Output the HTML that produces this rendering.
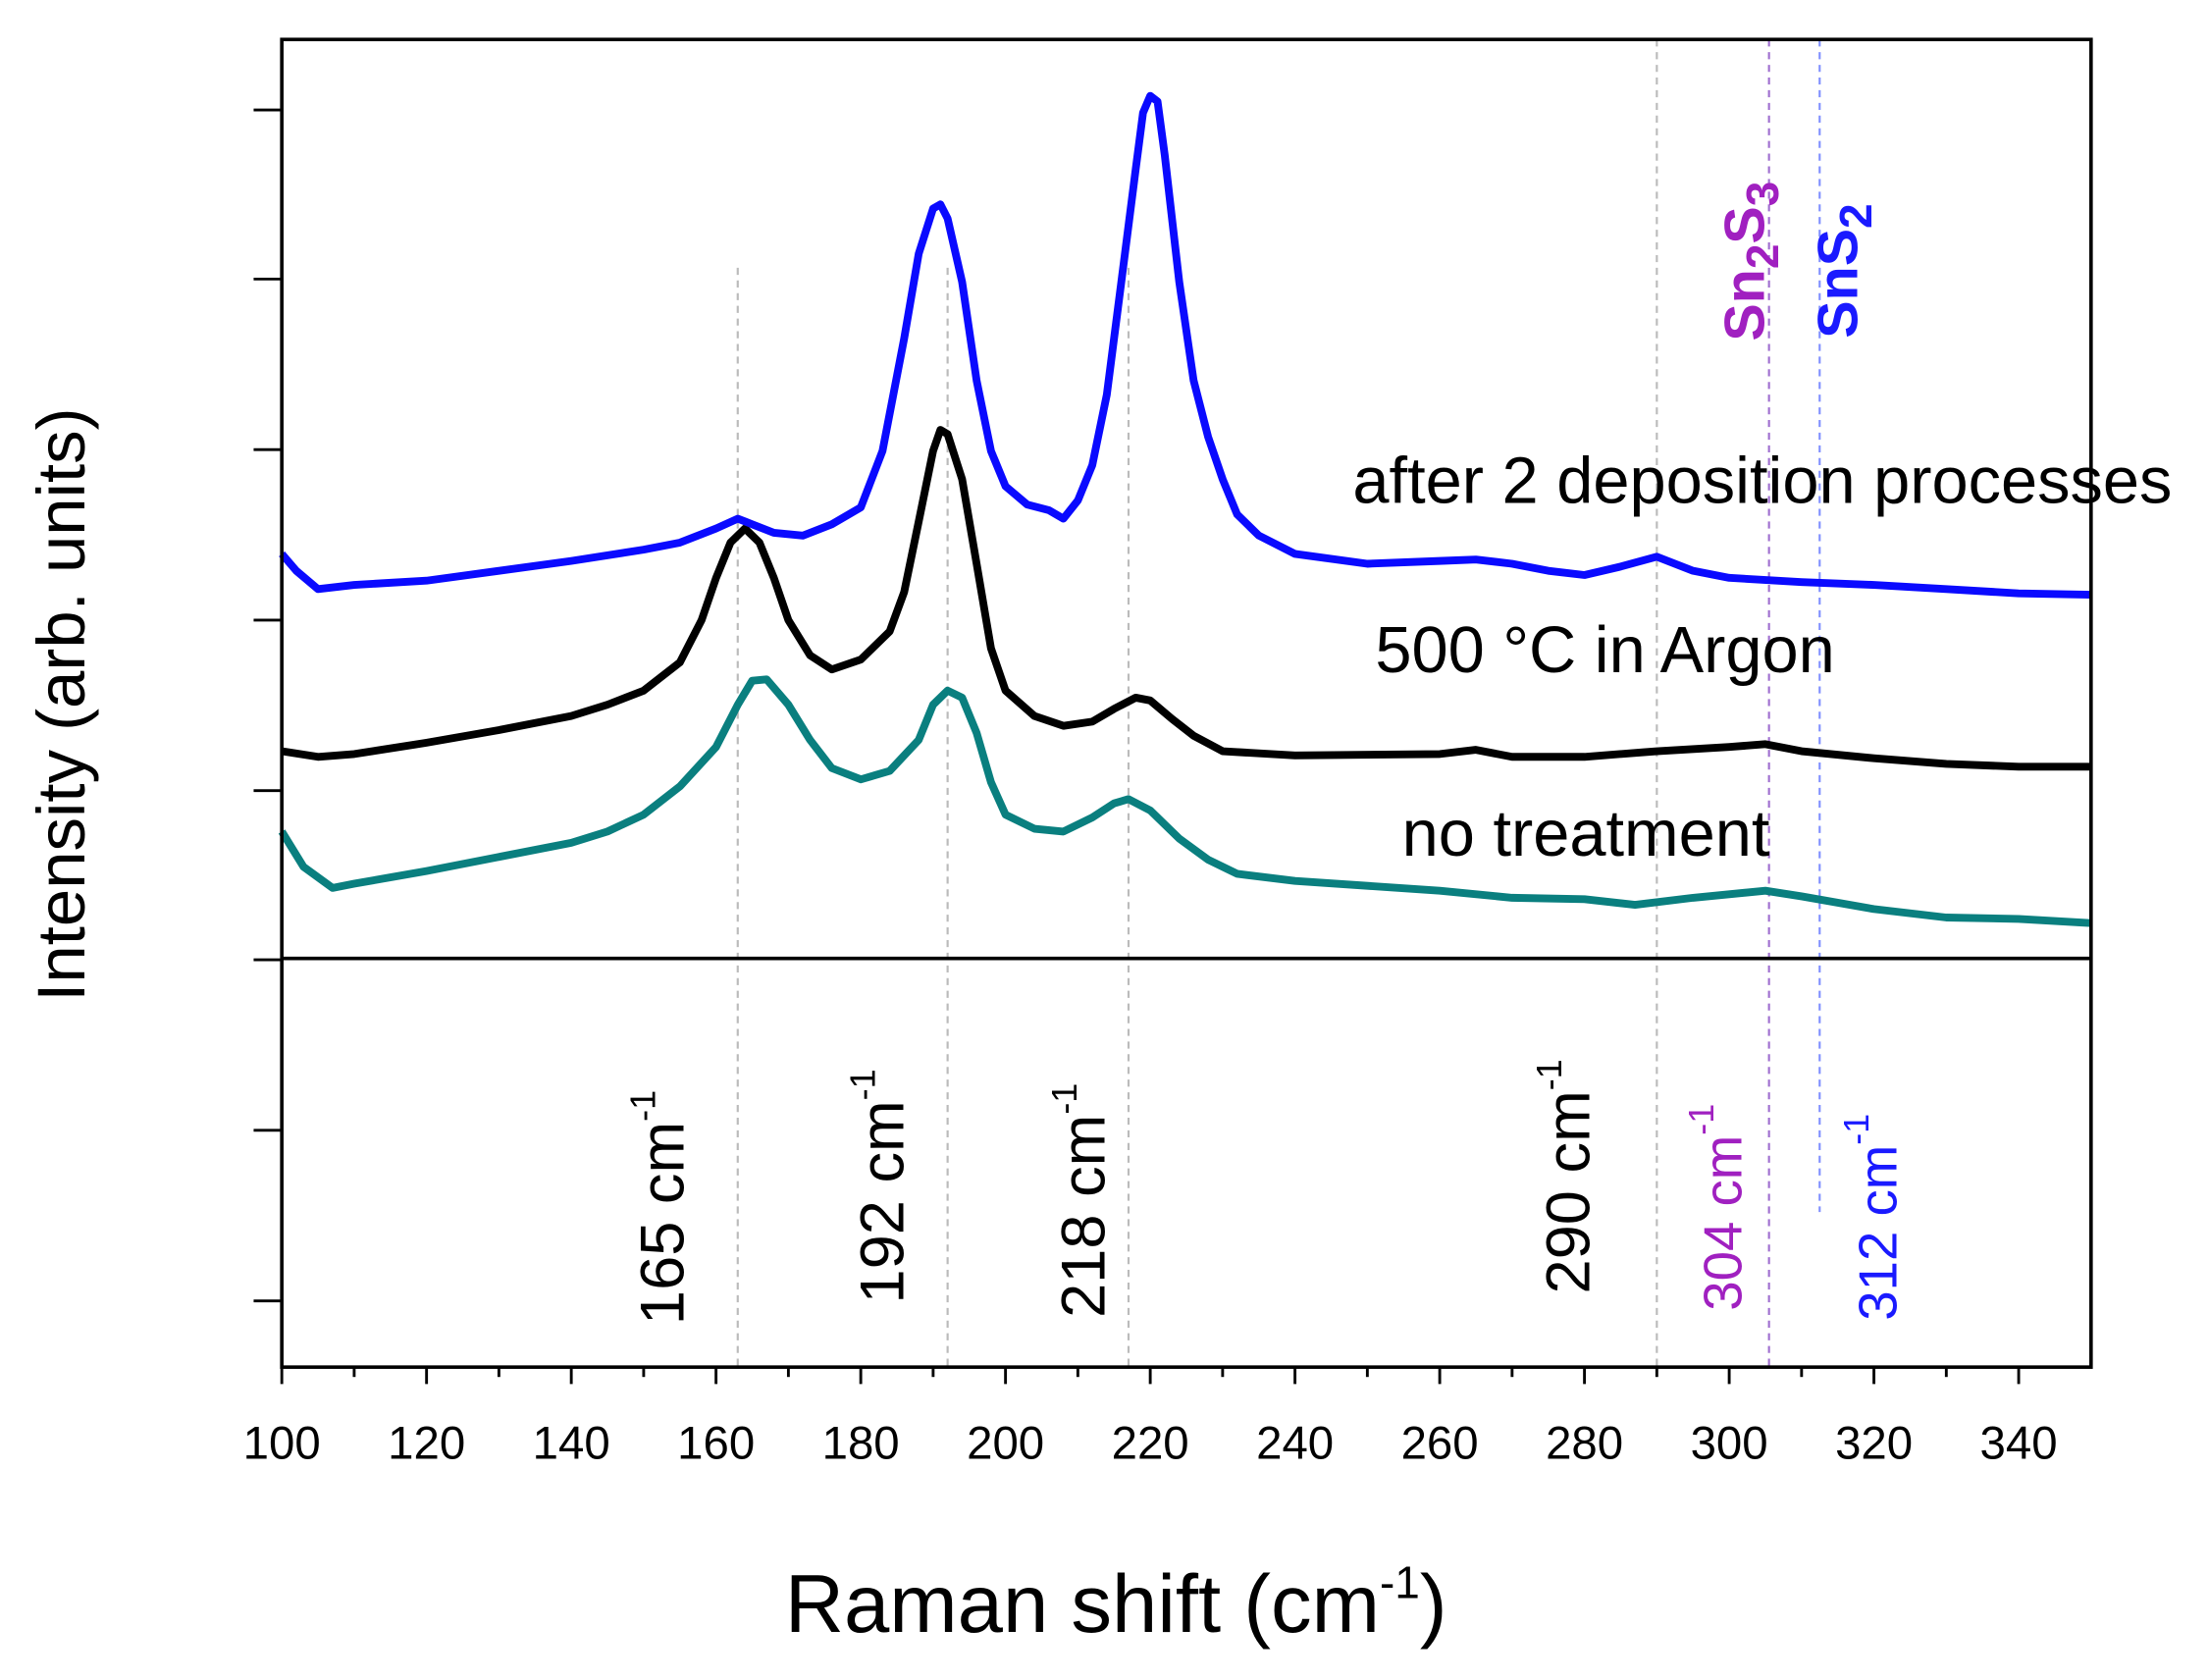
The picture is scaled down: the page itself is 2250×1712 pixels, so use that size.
<!DOCTYPE html>
<html><head><meta charset="utf-8"><style>
html,body{margin:0;padding:0;background:#fff;}
svg{display:block;font-family:"Liberation Sans",Arial,sans-serif;}
</style></head><body>
<svg id="chart" width="2250" height="1712" viewBox="0 0 1567 1192" preserveAspectRatio="none" xmlns="http://www.w3.org/2000/svg">
<rect x="0" y="0" width="1567" height="1192" fill="#fff"/>
<g id="refs"></g>
<g id="series"></g>
<rect x="200" y="28" width="1284" height="942" fill="none" stroke="#000" stroke-width="2.5"/>
<line x1="200" y1="680" x2="1484" y2="680" stroke="#000" stroke-width="2.5"/>
<g id="xticks"></g>
<g id="yticks"></g>
<text transform="translate(60,500) rotate(-90)" text-anchor="middle" font-size="48">Intensity (arb. units)</text>
<text x="792" y="1158" text-anchor="middle" font-size="58">Raman shift (cm<tspan dy="-24" font-size="32">-1</tspan><tspan dy="24">)</tspan></text>
<text x="960" y="357" font-size="46.5">after 2 deposition processes</text>
<text x="976" y="477" font-size="46.5">500 °C in Argon</text>
<text x="995" y="607" font-size="46.5">no treatment</text>
<text transform="translate(1252,242) rotate(-90)" font-size="40" font-weight="bold" fill="#a020c0">Sn<tspan dy="10" font-size="32">2</tspan><tspan dy="-10">S</tspan><tspan dy="10" font-size="32">3</tspan></text>
<text transform="translate(1318,240) rotate(-90)" font-size="40" font-weight="bold" fill="#1a1aff">SnS<tspan dy="10" font-size="32">2</tspan></text>
<g id="peaklabels"></g>
</svg>
<script>
const blueX=[100,102,105,110,120,130,140,150,155,160,163,165,168,172,176,180,183,186,188,190,191,192,194,196,198,200,203,206,208,210,212,214,216,218,219,220,221,222,224,226,228,230,232,235,240,250,260,265,270,275,280,285,290,295,300,310,320,330,340,350];
const blueY=[393,405,418,415,412,405,398,390,385,375,368,372,378,380,372,360,320,240,180,148,145,155,200,270,320,345,358,362,368,355,330,280,200,120,80,68,72,110,200,270,310,340,365,380,393,400,398,397,400,405,408,402,395,405,410,413,415,418,421,422];
const blackX=[100,105,110,120,130,140,145,150,155,158,160,162,164,166,168,170,173,176,180,184,186,188,190,191,192,194,196,198,200,204,208,212,215,218,220,223,226,230,240,260,265,270,280,290,300,305,310,320,330,340,350];
const blackY=[533,537,535,527,518,508,500,490,470,440,410,385,375,385,410,440,465,475,468,448,420,370,320,305,308,340,400,460,490,508,515,512,503,495,497,510,522,533,536,535,532,537,537,533,530,528,533,538,542,544,544];
const tealX=[100,103,107,110,120,130,140,145,150,155,160,163,165,167,170,173,176,180,184,188,190,192,194,196,198,200,204,208,212,215,217,220,224,228,232,240,260,270,280,287,295,305,310,320,330,340,350];
const tealY=[590,615,630,627,618,608,598,590,578,558,530,500,483,482,500,525,545,553,547,525,500,490,495,520,555,578,588,590,580,570,567,575,595,610,620,625,632,637,638,642,637,632,636,645,651,652,655];
const xTicks=[100,120,140,160,180,200,220,240,260,280,300,320,340];
const yTickPx=[78,198,319,440,561,681,802,923];
const peaks=[163,192,217,290,305.5,312.5];
const peakText=["165","192","218","290","304","312"];
const NS="http://www.w3.org/2000/svg";
const toVal=p=>(970-p)*1000/942;
const xs=v=>200+(v-100)*(1284/250);
const ys=v=>970-v*942/1000;
function mk(t,a,p){const e=document.createElementNS(NS,t);for(const k in a)e.setAttribute(k,a[k]);p.appendChild(e);return e;}
const S=document.getElementById('series');
function line(X,Y,col,name){
  const d=X.map((x,i)=>(i?'L':'M')+xs(x).toFixed(1)+','+ys(toVal(Y[i])).toFixed(1)).join('');
  const p=mk('path',{d:d,fill:'none',stroke:col,'stroke-width':5.5,'stroke-linejoin':'round'},S);
  
  
}
line(tealX,tealY,'#0a7f7f','series-no-treatment');
line(blackX,blackY,'#000','series-500c-argon');
line(blueX,blueY,'#0a0aff','series-after-2-deposition');
const R=document.getElementById('refs');
const refCols=['#bbb','#bbb','#bbb','#bbb','#a070d0','#8090ff'];
const refTop=[190,190,190,28,28,28];
const refBot=[970,970,970,970,970,860];
peaks.forEach((p,i)=>{
  const l=mk('line',{x1:xs(p),x2:xs(p),y1:refTop[i],y2:refBot[i],stroke:refCols[i],'stroke-width':1.5,'stroke-dasharray':'5,4'},R);
  
  
});
const PL=document.getElementById('peaklabels');
const plCol=['#000','#000','#000','#000','#a020c0','#1a1aff'];
const plX=[485,641,784,1128,1236,1346];
const plY=[940,925,935,918,930,937];
const plFs=[44,44,44,44,38,38];
peakText.forEach((t,i)=>{
  const e=mk('text',{transform:`translate(${plX[i]},${plY[i]}) rotate(-90)`,'font-size':plFs[i],fill:plCol[i]},PL);
  
  
  e.innerHTML=t+' cm<tspan dy="-20" font-size="25">-1</tspan>';
});
const XT=document.getElementById('xticks');
xTicks.forEach(v=>{
  const l=mk('line',{x1:xs(v),x2:xs(v),y1:970,y2:982,stroke:'#000','stroke-width':2},XT);
  
  
  const t=mk('text',{x:xs(v),y:1035,'text-anchor':'middle','font-size':33},XT);
  
  
  t.textContent=v;
});
for(let v=110;v<350;v+=20){const l=mk('line',{x1:xs(v),x2:xs(v),y1:970,y2:977,stroke:'#000','stroke-width':2},XT);
  
  }
const YT=document.getElementById('yticks');
yTickPx.forEach(p=>{const l=mk('line',{x1:180,x2:200,y1:p,y2:p,stroke:'#000','stroke-width':2},YT);
  
  });
</script>
</body></html>
